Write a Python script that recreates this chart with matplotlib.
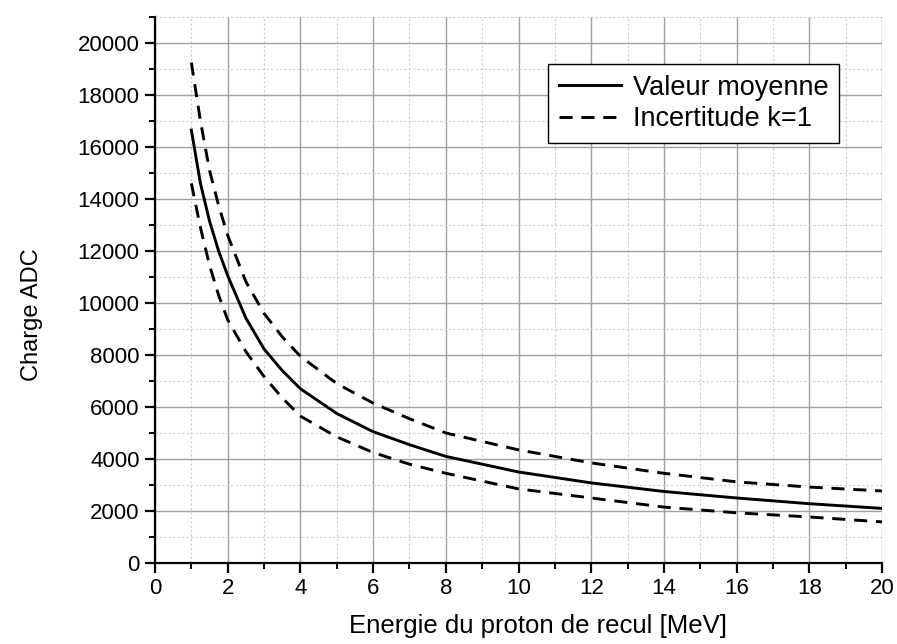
import matplotlib
matplotlib.use("Agg")
import matplotlib.pyplot as plt
from matplotlib.ticker import MultipleLocator

plt.rcParams['font.family'] = ['Liberation Sans', 'DejaVu Sans']

# values
energy = [1, 1.25, 1.5, 1.75, 2, 2.5, 3, 3.5, 4, 5, 6, 7, 8, 10, 12, 14, 16, 18, 20]
mean = [16650, 14600, 13150, 12000, 11050, 9420, 8230, 7400, 6700, 5750,
        5050, 4550, 4100, 3500, 3080, 2750, 2500, 2280, 2100]
upper = [19250, 17000, 15100, 13750, 12600, 10820, 9600, 8700, 7950, 6900,
         6150, 5550, 5000, 4350, 3850, 3450, 3120, 2920, 2770]
lower = [14600, 12900, 11450, 10300, 9350, 8130, 7170, 6350, 5650, 4850,
         4250, 3800, 3450, 2850, 2500, 2150, 1930, 1770, 1580]

fig = plt.figure(figsize=(8.97, 6.44), dpi=100)
ax = fig.add_axes([0.1728, 0.1258, 0.8105, 0.8478])

ax.plot(energy, mean, 'k-', lw=2.1, label="Valeur moyenne")
ax.plot(energy, upper, 'k--', lw=2.1, dashes=(4.5, 3), label="Incertitude k=1")
ax.plot(energy, lower, 'k--', lw=2.1, dashes=(4.5, 3))

ax.set_xlim(0, 20)
ax.set_ylim(0, 21000)
ax.xaxis.set_major_locator(MultipleLocator(2))
ax.xaxis.set_minor_locator(MultipleLocator(1))
ax.yaxis.set_minor_locator(MultipleLocator(1000))
ax.set_yticks(range(0, 20001, 2000))

ax.grid(which='major', color='#a0a0a0', lw=1.0, ls='-')
ax.grid(which='minor', color='#cccccc', lw=0.8, ls=(0, (2, 2)))
ax.set_axisbelow(True)

for s in ['top', 'right']:
    ax.spines[s].set_visible(False)
for s in ['left', 'bottom']:
    ax.spines[s].set_linewidth(1.6)

ax.tick_params(which='major', direction='out', length=7, width=1.6, labelsize=16, pad=4)
ax.tick_params(which='minor', direction='out', length=4.5, width=1.4)

ax.set_xlabel("Energie du proton de recul [MeV]", fontsize=18.5)
ax.set_ylabel("Charge ADC", fontsize=17)
ax.xaxis.set_label_coords(0.527, -0.093)
ax.yaxis.set_label_coords(-0.154, 0.454)

leg = ax.legend(loc='upper right', bbox_to_anchor=(0.941, 0.914), fontsize=19.5,
                handlelength=2.3, handletextpad=0.42, borderpad=0.4,
                labelspacing=0.2, fancybox=False, framealpha=1, borderaxespad=0)
leg.get_frame().set_edgecolor('black')
leg.get_frame().set_linewidth(1.0)

fig.savefig("out.png", dpi=100)
